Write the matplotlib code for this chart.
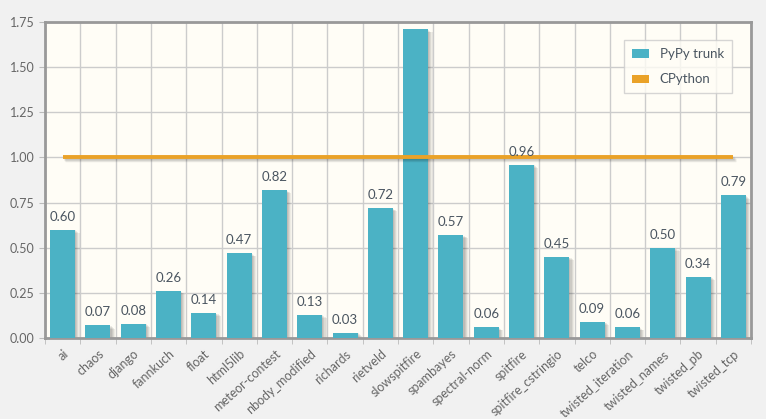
import matplotlib
matplotlib.use("Agg")
import matplotlib.pyplot as plt
from matplotlib.transforms import ScaledTranslation
from matplotlib.patches import Patch
import numpy as np

categories = ["ai", "chaos", "django", "fannkuch", "float", "html5lib", "meteor-contest",
              "nbody_modified", "richards", "rietveld", "slowspitfire", "spambayes",
              "spectral-norm", "spitfire", "spitfire_cstringio", "telco",
              "twisted_iteration", "twisted_names", "twisted_pb", "twisted_tcp"]
pypy = [0.60, 0.07, 0.08, 0.26, 0.14, 0.47, 0.82, 0.13, 0.03, 0.72, 1.71, 0.57,
        0.06, 0.96, 0.45, 0.09, 0.06, 0.50, 0.34, 0.79]
cpython = [1.0] * len(categories)

plt.rcParams['font.family'] = ['Lato', 'DejaVu Sans']

fig = plt.figure(figsize=(7.66, 4.19), dpi=100)
fig.patch.set_facecolor("#f1f1f1")
ax = fig.add_axes([45/766, 1-338/419, 706/766, 316/419])
ax.set_facecolor("#fffdf6")

x = np.arange(len(categories))
bar_color = "#4bb2c5"
line_color = "#eaa228"

# shadows
for i in range(1, 5):
    off = ScaledTranslation(i*1.1/100, -i*0.8/100, fig.dpi_scale_trans)
    ax.bar(x, pypy, width=0.71, color="black", alpha=0.07, transform=ax.transData + off,
           zorder=2, linewidth=0)
ax.bar(x, pypy, width=0.71, color=bar_color, zorder=3, linewidth=0)

for i in range(1, 4):
    off = ScaledTranslation(i*0.9/100, -i*0.9/100, fig.dpi_scale_trans)
    ax.plot(x, cpython, color="black", alpha=0.08, lw=2.5, transform=ax.transData + off,
            zorder=4, solid_capstyle="butt")
ax.plot(x, cpython, color=line_color, lw=2.8, zorder=5, solid_capstyle="butt")

ax.set_ylim(0, 1.75)
ax.set_xlim(-0.5, len(categories) - 0.5)
ax.set_yticks(np.arange(0, 1.76, 0.25))
ax.set_yticklabels([f"{v:.2f}" for v in np.arange(0, 1.76, 0.25)])

for xi, v in zip(x, pypy):
    if v + 0.08 < 1.75:
        ax.annotate(f"{v:.2f}", (xi, v), xytext=(0, 5), textcoords="offset points",
                    ha="center", va="bottom", fontsize=9.5, color="#4a5560", zorder=6)

ax.set_xticks(x)
ax.set_xticklabels(categories, rotation=42, ha="right", rotation_mode="anchor",
                   fontsize=9, color="#666666")
ax.set_xticks(np.arange(-0.5, len(categories), 1), minor=True)
ax.tick_params(axis="x", which="major", length=0, pad=7)
ax.tick_params(axis="x", which="minor", length=4, color="#bbbbbb")
ax.tick_params(axis="y", length=4, color="#bbbbbb", labelsize=9, labelcolor="#666666")

ax.grid(True, which="minor", axis="x", color="#cccccc", lw=1, zorder=0)
ax.grid(True, which="major", axis="y", color="#cccccc", lw=1, zorder=0)
ax.set_axisbelow(True)

for s in ax.spines.values():
    s.set_color("#999999")
    s.set_linewidth(2)

handles = [Patch(facecolor=bar_color, label="PyPy trunk"),
           Patch(facecolor=line_color, label="CPython")]
leg = ax.legend(handles=handles, loc="upper right", bbox_to_anchor=(0.982, 0.963), fontsize=9.5,
                frameon=True, fancybox=False, handlelength=1.3, handleheight=0.6,
                labelspacing=1.0, borderpad=0.6, handletextpad=0.8)
leg.get_frame().set_edgecolor("#cccccc")
leg.get_frame().set_facecolor("#fffdf6")
for t in leg.get_texts():
    t.set_color("#4a5560")

fig.savefig("out.png", dpi=100, facecolor=fig.get_facecolor())
